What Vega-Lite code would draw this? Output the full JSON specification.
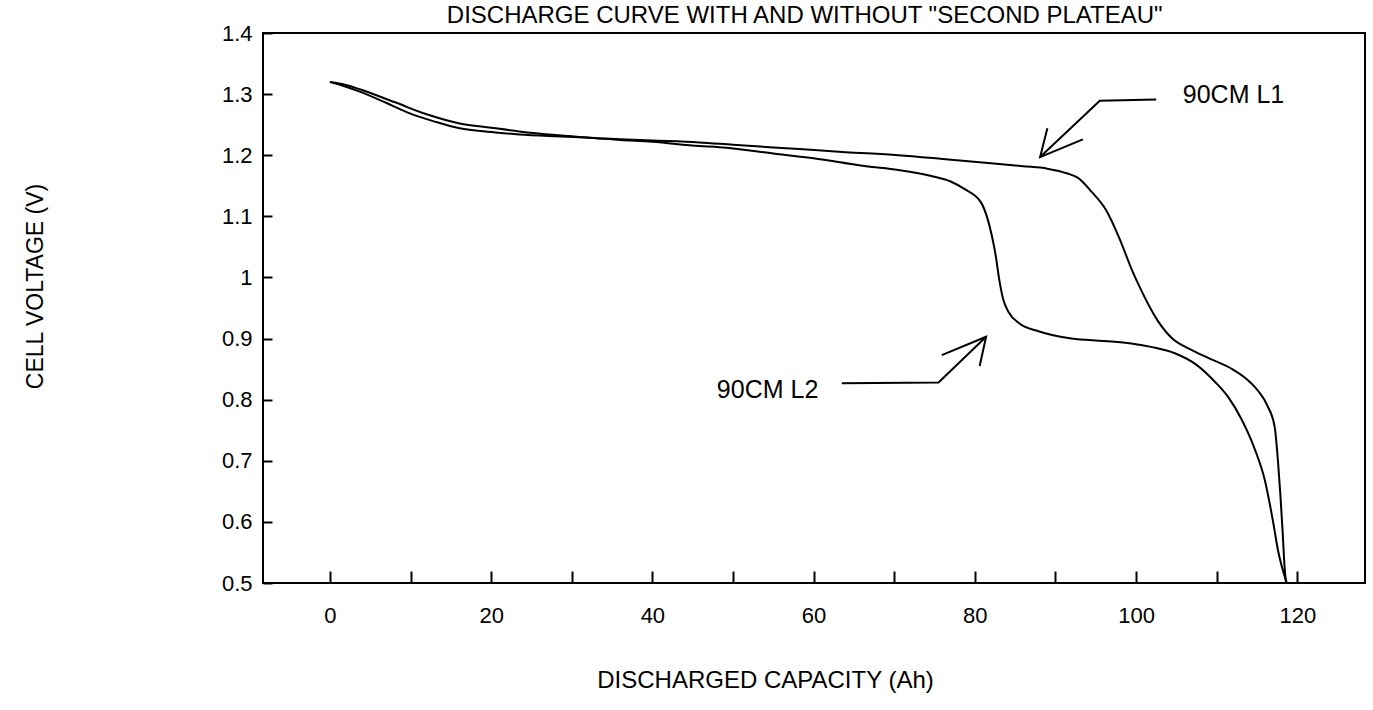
{
  "$schema": "https://vega.github.io/schema/vega-lite/v6.json",
  "width": 1102,
  "height": 550,
  "autosize": {"type": "none"},
  "padding": {"left": 263, "top": 33, "right": 8, "bottom": 127},
  "background": "white",
  "config": {
    "view": {"stroke": "black", "strokeWidth": 2},
    "axis": {
      "domain": false,
      "grid": false,
      "tickColor": "black",
      "tickWidth": 2,
      "labelColor": "black",
      "labelFont": "Liberation Sans",
      "labelFontSize": 22,
      "labelOverlap": false,
      "labelFlush": false,
      "titleColor": "black",
      "titleFont": "Liberation Sans",
      "titleFontWeight": "normal",
      "titleFontSize": 24
    }
  },
  "datasets": {
    "curves": [
      {"series": "90CM L1", "cap": 0, "volt": 1.32},
      {"series": "90CM L1", "cap": 2, "volt": 1.315},
      {"series": "90CM L1", "cap": 3.7, "volt": 1.308},
      {"series": "90CM L1", "cap": 8, "volt": 1.287},
      {"series": "90CM L1", "cap": 12, "volt": 1.267},
      {"series": "90CM L1", "cap": 16.1, "volt": 1.252},
      {"series": "90CM L1", "cap": 20, "volt": 1.245},
      {"series": "90CM L1", "cap": 23.5, "volt": 1.239},
      {"series": "90CM L1", "cap": 28, "volt": 1.233},
      {"series": "90CM L1", "cap": 31.8, "volt": 1.229},
      {"series": "90CM L1", "cap": 36, "volt": 1.226},
      {"series": "90CM L1", "cap": 40, "volt": 1.224},
      {"series": "90CM L1", "cap": 45.8, "volt": 1.221},
      {"series": "90CM L1", "cap": 50, "volt": 1.217},
      {"series": "90CM L1", "cap": 58.2, "volt": 1.21},
      {"series": "90CM L1", "cap": 64, "volt": 1.205},
      {"series": "90CM L1", "cap": 70.5, "volt": 1.2},
      {"series": "90CM L1", "cap": 76, "volt": 1.194},
      {"series": "90CM L1", "cap": 82, "volt": 1.187},
      {"series": "90CM L1", "cap": 86, "volt": 1.182},
      {"series": "90CM L1", "cap": 89, "volt": 1.178},
      {"series": "90CM L1", "cap": 91.5, "volt": 1.17},
      {"series": "90CM L1", "cap": 92.8, "volt": 1.163},
      {"series": "90CM L1", "cap": 94.5, "volt": 1.14},
      {"series": "90CM L1", "cap": 96.2, "volt": 1.112},
      {"series": "90CM L1", "cap": 98, "volt": 1.062},
      {"series": "90CM L1", "cap": 99.4, "volt": 1.015},
      {"series": "90CM L1", "cap": 100.5, "volt": 0.983},
      {"series": "90CM L1", "cap": 102.7, "volt": 0.929},
      {"series": "90CM L1", "cap": 104.5, "volt": 0.9},
      {"series": "90CM L1", "cap": 106.8, "volt": 0.882},
      {"series": "90CM L1", "cap": 109, "volt": 0.868},
      {"series": "90CM L1", "cap": 111.8, "volt": 0.851},
      {"series": "90CM L1", "cap": 113.5, "volt": 0.836},
      {"series": "90CM L1", "cap": 115.1, "volt": 0.815},
      {"series": "90CM L1", "cap": 116.3, "volt": 0.79},
      {"series": "90CM L1", "cap": 117.2, "volt": 0.755},
      {"series": "90CM L1", "cap": 117.6, "volt": 0.7},
      {"series": "90CM L1", "cap": 117.9, "volt": 0.645},
      {"series": "90CM L1", "cap": 118.2, "volt": 0.58},
      {"series": "90CM L1", "cap": 118.4, "volt": 0.531},
      {"series": "90CM L1", "cap": 118.6, "volt": 0.5},
      {"series": "90CM L2", "cap": 0, "volt": 1.32},
      {"series": "90CM L2", "cap": 2, "volt": 1.312},
      {"series": "90CM L2", "cap": 3.7, "volt": 1.304},
      {"series": "90CM L2", "cap": 7.1, "volt": 1.285},
      {"series": "90CM L2", "cap": 10, "volt": 1.268},
      {"series": "90CM L2", "cap": 13, "volt": 1.255},
      {"series": "90CM L2", "cap": 16.1, "volt": 1.244},
      {"series": "90CM L2", "cap": 20, "volt": 1.238},
      {"series": "90CM L2", "cap": 23.5, "volt": 1.234},
      {"series": "90CM L2", "cap": 28, "volt": 1.231},
      {"series": "90CM L2", "cap": 31.8, "volt": 1.229},
      {"series": "90CM L2", "cap": 36, "volt": 1.225},
      {"series": "90CM L2", "cap": 40, "volt": 1.222},
      {"series": "90CM L2", "cap": 45.8, "volt": 1.215},
      {"series": "90CM L2", "cap": 48.3, "volt": 1.213},
      {"series": "90CM L2", "cap": 55, "volt": 1.203},
      {"series": "90CM L2", "cap": 60, "volt": 1.195},
      {"series": "90CM L2", "cap": 66.5, "volt": 1.182},
      {"series": "90CM L2", "cap": 70.5, "volt": 1.176},
      {"series": "90CM L2", "cap": 74.6, "volt": 1.166},
      {"series": "90CM L2", "cap": 77, "volt": 1.157},
      {"series": "90CM L2", "cap": 78.8, "volt": 1.144},
      {"series": "90CM L2", "cap": 80.8, "volt": 1.122},
      {"series": "90CM L2", "cap": 81.6, "volt": 1.095},
      {"series": "90CM L2", "cap": 82.1, "volt": 1.069},
      {"series": "90CM L2", "cap": 82.6, "volt": 1.035},
      {"series": "90CM L2", "cap": 83, "volt": 0.999},
      {"series": "90CM L2", "cap": 83.5, "volt": 0.965},
      {"series": "90CM L2", "cap": 84.2, "volt": 0.943},
      {"series": "90CM L2", "cap": 85.5, "volt": 0.925},
      {"series": "90CM L2", "cap": 87.9, "volt": 0.912},
      {"series": "90CM L2", "cap": 92, "volt": 0.9},
      {"series": "90CM L2", "cap": 96, "volt": 0.896},
      {"series": "90CM L2", "cap": 99.4, "volt": 0.892},
      {"series": "90CM L2", "cap": 102, "volt": 0.886},
      {"series": "90CM L2", "cap": 104.8, "volt": 0.876},
      {"series": "90CM L2", "cap": 107.5, "volt": 0.857},
      {"series": "90CM L2", "cap": 109.8, "volt": 0.829},
      {"series": "90CM L2", "cap": 111.5, "volt": 0.803},
      {"series": "90CM L2", "cap": 113, "volt": 0.77},
      {"series": "90CM L2", "cap": 114.7, "volt": 0.72},
      {"series": "90CM L2", "cap": 116, "volt": 0.667},
      {"series": "90CM L2", "cap": 117, "volt": 0.6},
      {"series": "90CM L2", "cap": 117.6, "volt": 0.554},
      {"series": "90CM L2", "cap": 118.7, "volt": 0.5}
    ],
    "leaders": [
      {"seg": "L1 shaft", "ord": 1, "cap": 102.5, "volt": 1.291},
      {"seg": "L1 shaft", "ord": 2, "cap": 95.5, "volt": 1.289},
      {"seg": "L1 shaft", "ord": 3, "cap": 88.1, "volt": 1.197},
      {"seg": "L1 head", "ord": 1, "cap": 89.0, "volt": 1.244},
      {"seg": "L1 head", "ord": 2, "cap": 88.1, "volt": 1.197},
      {"seg": "L1 head", "ord": 3, "cap": 93.4, "volt": 1.226},
      {"seg": "L2 shaft", "ord": 1, "cap": 63.5, "volt": 0.827},
      {"seg": "L2 shaft", "ord": 2, "cap": 75.5, "volt": 0.828},
      {"seg": "L2 shaft", "ord": 3, "cap": 81.4, "volt": 0.903},
      {"seg": "L2 head", "ord": 1, "cap": 75.9, "volt": 0.873},
      {"seg": "L2 head", "ord": 2, "cap": 81.4, "volt": 0.903},
      {"seg": "L2 head", "ord": 3, "cap": 80.6, "volt": 0.855}
    ],
    "labels": [
      {"label": "90CM L1", "cap": 105.8, "volt": 1.298},
      {"label": "90CM L2", "cap": 48, "volt": 0.816}
    ],
    "heading": [
      {"label": "DISCHARGE CURVE WITH AND WITHOUT \"SECOND PLATEAU\"", "cap": 14.5, "volt": 1.448}
    ]
  },
  "layer": [
    {
      "mark": {"type": "rule", "color": "black", "strokeWidth": 2},
      "encoding": {"x": {"datum": 0, "type": "quantitative"}}
    },
    {
      "mark": {"type": "rule", "color": "black", "strokeWidth": 2},
      "encoding": {"y": {"datum": 1, "type": "quantitative"}}
    },
    {
      "data": {"name": "curves"},
      "mark": {"type": "line", "color": "black", "strokeWidth": 2, "interpolate": "monotone"},
      "encoding": {
        "x": {
          "field": "cap", "type": "quantitative",
          "scale": {"domain": [-8.3, 128.4], "nice": false, "zero": false},
          "axis": {
            "values": [0, 10, 20, 30, 40, 50, 60, 70, 80, 90, 100, 110, 120],
            "labelExpr": "datum.value % 20 === 0 ? datum.label : ''",
            "tickSize": -12,
            "labelPadding": 34,
            "title": "DISCHARGED CAPACITY (Ah)",
            "titleX": 502,
            "titleY": 97,
            "titleBaseline": "middle"
          }
        },
        "y": {
          "field": "volt", "type": "quantitative",
          "scale": {"domain": [0.5, 1.4], "nice": false, "zero": false},
          "axis": {
            "values": [0.5, 0.6, 0.7, 0.8, 0.9, 1.0, 1.1, 1.2, 1.3, 1.4],
            "labelExpr": "format(datum.value, '.1~f')",
            "tickSize": -9,
            "labelPadding": 20,
            "title": "CELL VOLTAGE (V)",
            "titleFontSize": 23,
            "titleX": -228,
            "titleY": 253,
            "titleBaseline": "middle"
          }
        },
        "detail": {"field": "series"}
      }
    },
    {
      "data": {"name": "leaders"},
      "mark": {"type": "line", "color": "black", "strokeWidth": 2},
      "encoding": {
        "x": {"field": "cap", "type": "quantitative"},
        "y": {"field": "volt", "type": "quantitative"},
        "detail": {"field": "seg"},
        "order": {"field": "ord"}
      }
    },
    {
      "data": {"name": "labels"},
      "mark": {"type": "text", "align": "left", "baseline": "middle", "font": "Liberation Sans", "fontSize": 25, "color": "black"},
      "encoding": {
        "x": {"field": "cap", "type": "quantitative"},
        "y": {"field": "volt", "type": "quantitative"},
        "text": {"field": "label"}
      }
    },
    {
      "data": {"name": "heading"},
      "mark": {"type": "text", "align": "left", "baseline": "top", "font": "Liberation Sans", "fontSize": 24, "color": "black"},
      "encoding": {
        "x": {"field": "cap", "type": "quantitative"},
        "y": {"field": "volt", "type": "quantitative"},
        "text": {"field": "label"}
      }
    }
  ]
}
